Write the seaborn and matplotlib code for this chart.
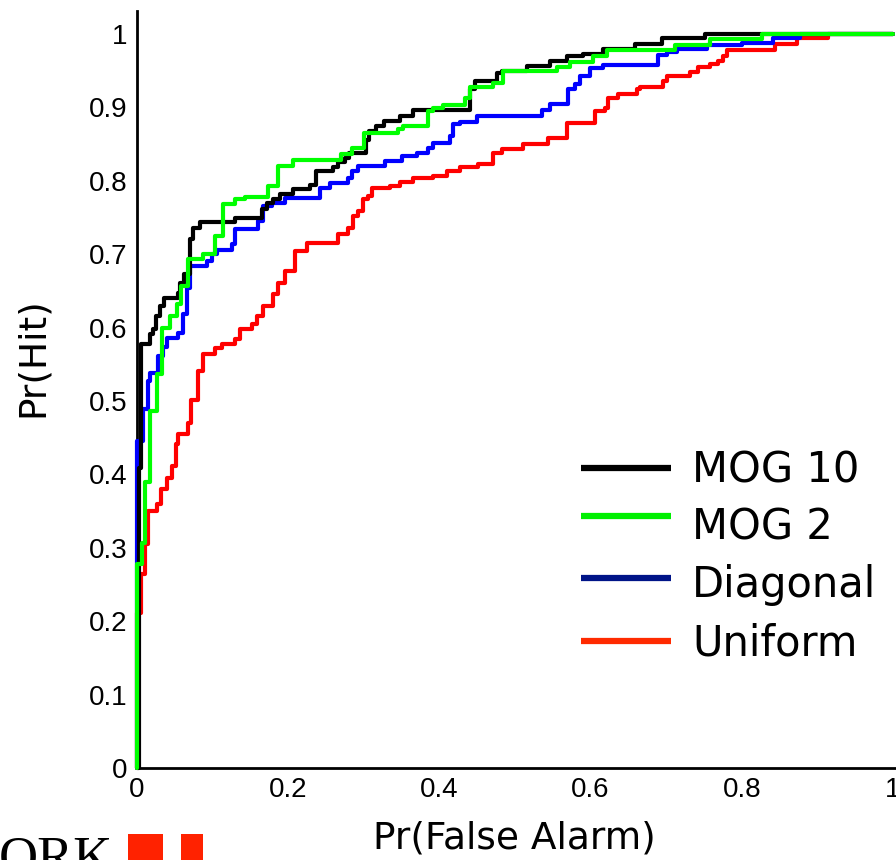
import matplotlib
matplotlib.use("Agg")
import matplotlib.pyplot as plt
from matplotlib.lines import Line2D
from matplotlib.patches import Rectangle
import numpy as np
import pandas as pd
import seaborn as sns

# ROC operating points (false-alarm rate, hit rate) for each model
fa_mog10 = [0.000, 0.002, 0.005, 0.017, 0.021, 0.025, 0.030, 0.036, 0.054, 0.057, 0.062, 0.070,
            0.074, 0.083, 0.130, 0.165, 0.172, 0.180, 0.189, 0.206, 0.229, 0.237, 0.259, 0.266,
            0.275, 0.280, 0.303, 0.307, 0.316, 0.327, 0.348, 0.365, 0.440, 0.447, 0.476, 0.483,
            0.516, 0.546, 0.569, 0.590, 0.616, 0.659, 0.694, 0.751, 1.000]
hit_mog10 = [0.000, 0.409, 0.578, 0.591, 0.598, 0.616, 0.629, 0.640, 0.647, 0.661, 0.673, 0.721,
             0.736, 0.744, 0.749, 0.762, 0.770, 0.775, 0.782, 0.789, 0.794, 0.813, 0.819, 0.825,
             0.831, 0.838, 0.856, 0.868, 0.874, 0.881, 0.888, 0.896, 0.925, 0.936, 0.947, 0.950,
             0.956, 0.963, 0.970, 0.973, 0.980, 0.986, 0.995, 1.000, 1.000]

fa_mog2 = [0.000, 0.000, 0.007, 0.011, 0.017, 0.026, 0.033, 0.044, 0.053, 0.058, 0.067, 0.087,
           0.103, 0.114, 0.130, 0.143, 0.173, 0.187, 0.206, 0.270, 0.284, 0.300, 0.345, 0.352,
           0.385, 0.392, 0.405, 0.434, 0.440, 0.471, 0.484, 0.556, 0.573, 0.603, 0.622, 0.712,
           0.758, 0.827, 1.000]
hit_mog2 = [0.000, 0.278, 0.307, 0.389, 0.486, 0.537, 0.600, 0.616, 0.632, 0.657, 0.693, 0.700,
            0.725, 0.768, 0.775, 0.778, 0.793, 0.820, 0.829, 0.837, 0.845, 0.865, 0.870, 0.875,
            0.895, 0.899, 0.903, 0.913, 0.928, 0.933, 0.950, 0.955, 0.962, 0.970, 0.978, 0.985,
            0.993, 1.000, 1.000]

fa_diag = [0.000, 0.000, 0.008, 0.0145, 0.017, 0.028, 0.034, 0.040, 0.054, 0.061, 0.066, 0.070,
           0.093, 0.099, 0.106, 0.126, 0.130, 0.160, 0.167, 0.179, 0.196, 0.242, 0.255, 0.279,
           0.284, 0.292, 0.328, 0.351, 0.370, 0.385, 0.392, 0.414, 0.418, 0.427, 0.450, 0.536,
           0.546, 0.570, 0.579, 0.586, 0.599, 0.616, 0.689, 0.701, 0.714, 0.754, 0.800, 0.841,
           0.877, 1.000]
hit_diag = [0.000, 0.445, 0.489, 0.527, 0.538, 0.561, 0.574, 0.586, 0.593, 0.618, 0.654, 0.684,
            0.691, 0.700, 0.706, 0.714, 0.734, 0.745, 0.766, 0.770, 0.777, 0.790, 0.797, 0.804,
            0.813, 0.820, 0.827, 0.834, 0.838, 0.845, 0.851, 0.861, 0.877, 0.880, 0.888, 0.896,
            0.904, 0.925, 0.932, 0.943, 0.954, 0.958, 0.971, 0.975, 0.980, 0.985, 0.988, 0.995,
            1.000, 1.000]

fa_unif = [0.000, 0.000, 0.005, 0.011, 0.015, 0.026, 0.032, 0.040, 0.046, 0.052, 0.054, 0.067,
           0.071, 0.081, 0.087, 0.103, 0.112, 0.130, 0.136, 0.152, 0.159, 0.167, 0.180, 0.187,
           0.196, 0.209, 0.225, 0.266, 0.279, 0.286, 0.292, 0.299, 0.306, 0.311, 0.335, 0.348,
           0.365, 0.392, 0.410, 0.427, 0.451, 0.471, 0.483, 0.511, 0.544, 0.569, 0.606, 0.619,
           0.623, 0.636, 0.661, 0.665, 0.696, 0.701, 0.731, 0.742, 0.758, 0.769, 0.775, 0.780,
           0.844, 0.873, 0.914, 1.000]
hit_unif = [0.000, 0.211, 0.264, 0.305, 0.350, 0.360, 0.380, 0.395, 0.411, 0.441, 0.455, 0.470,
            0.502, 0.541, 0.564, 0.572, 0.577, 0.584, 0.598, 0.605, 0.616, 0.629, 0.646, 0.661,
            0.677, 0.704, 0.715, 0.728, 0.736, 0.752, 0.759, 0.775, 0.779, 0.790, 0.793, 0.798,
            0.804, 0.807, 0.813, 0.819, 0.823, 0.838, 0.843, 0.850, 0.858, 0.879, 0.895, 0.899,
            0.913, 0.918, 0.925, 0.928, 0.936, 0.943, 0.948, 0.955, 0.959, 0.963, 0.970, 0.978,
            0.986, 0.995, 1.000, 1.000]

models = ["MOG 10", "MOG 2", "Diagonal", "Uniform"]
curve_colors = {"MOG 10": "#000000", "MOG 2": "#00ff00", "Diagonal": "#0000ff", "Uniform": "#ff0000"}
key_colors = {"MOG 10": "#000000", "MOG 2": "#00f000", "Diagonal": "#001488", "Uniform": "#ff2a00"}
draw_order = ["Uniform", "Diagonal", "MOG 10", "MOG 2"]

x_ticks = [0, 0.2, 0.4, 0.6, 0.8, 1.0]
x_ticklabels = ["0", "0.2", "0.4", "0.6", "0.8", "1"]
y_ticks = [0, 0.1, 0.2, 0.3, 0.4, 0.5, 0.6, 0.7, 0.8, 0.9, 1.0]
y_ticklabels = ["0", "0.1", "0.2", "0.3", "0.4", "0.5", "0.6", "0.7", "0.8", "0.9", "1"]

frames = []
for name, fa, hit in [("MOG 10", fa_mog10, hit_mog10), ("MOG 2", fa_mog2, hit_mog2),
                      ("Diagonal", fa_diag, hit_diag), ("Uniform", fa_unif, hit_unif)]:
    frames.append(pd.DataFrame({"fa": fa, "hit": hit, "model": name}))
roc = pd.concat(frames, ignore_index=True)

sns.set_theme(style="white")
plt.rcParams["font.family"] = ["DejaVu Sans"]

W, H = 896, 860
fig = plt.figure(figsize=(W / 100, H / 100), dpi=100)
ax = fig.add_axes([137 / W, 1 - 768 / H, 1.01 * 756 / W, 1.031 * 734 / H])

for name in draw_order:
    sns.lineplot(data=roc[roc["model"] == name], x="fa", y="hit", ax=ax,
                 color=curve_colors[name], lw=3.0, drawstyle="steps-post",
                 estimator=None, sort=False, legend=False, clip_on=False, zorder=3)

ax.set_xlim(0, 1.01)
ax.set_ylim(0, 1.031)
ax.set_xticks(x_ticks)
ax.set_xticklabels(x_ticklabels)
ax.set_yticks(y_ticks)
ax.set_yticklabels(y_ticklabels)
sns.despine(ax=ax)
for side in ["left", "bottom"]:
    ax.spines[side].set_linewidth(2.0)
    ax.spines[side].set_color("black")
    ax.spines[side].set_zorder(1)
ax.tick_params(axis="both", direction="in", length=5, width=1.5, colors="black",
               labelsize=20)
ax.tick_params(axis="y", pad=7)
ax.tick_params(axis="x", pad=6.5)
for lab in ax.get_xticklabels() + ax.get_yticklabels():
    lab.set_family(["Liberation Sans", "DejaVu Sans"])

ax.set_xlabel("Pr(False Alarm)", fontsize=27, color="black")
ax.set_ylabel("Pr(Hit)", fontsize=27, color="black")
ax.xaxis.set_label_coords(514 / W, 1 - 820 / H, transform=fig.transFigure)
ax.yaxis.set_label_coords(33 / W, 1 - 357 / H, transform=fig.transFigure)
ax.yaxis.label.set_va("center")

# key: swatch lines and labels
key_line_y = [468, 516, 578, 641]
key_text_base = [482, 539, 597, 655]
for name, ly, ty in zip(models, key_line_y, key_text_base):
    fig.add_artist(Line2D([581 / W, 671 / W], [1 - ly / H, 1 - ly / H],
                          transform=fig.transFigure, color=key_colors[name], lw=4.5,
                          solid_capstyle="butt"))
    fig.text(692 / W, 1 - ty / H, name, fontsize=30, color="black",
             ha="left", va="baseline")

# institutional mark in the lower-left corner
fig.text(113 / W, 1 - 873 / H, "ORK", fontsize=39, color="black",
         family=["Liberation Serif", "DejaVu Serif"], ha="right", va="baseline")
fig.add_artist(Rectangle((128 / W, 0), 35 / W, 26 / H, transform=fig.transFigure,
                         color="#ff2200", lw=0))
fig.add_artist(Rectangle((181 / W, 0), 22 / W, 26 / H, transform=fig.transFigure,
                         color="#ff2200", lw=0))

fig.savefig("out.png", dpi=100)
